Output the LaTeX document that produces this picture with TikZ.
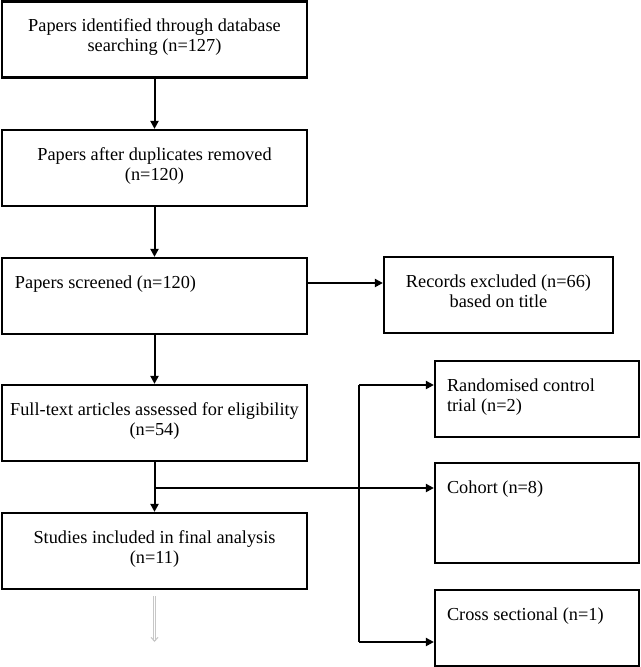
\documentclass[tikz,border=0pt]{standalone}
\usepackage{fontspec}
\setmainfont{Liberation Serif}
\usetikzlibrary{arrows.meta}

\tikzset{
    box/.style={draw, line width=2.2bp, inner sep=0pt, font=\fontsize{18.3bp}{20bp}\selectfont},
    leftbox/.style={box, minimum width=305bp, minimum height=76bp},
    rightbox/.style={box, minimum width=204bp},
    link/.style={line width=2bp},
    fade/.style={draw=black!22, line width=1bp, double distance=1.6bp},
}
\newcommand{\boxtext}[3]{\parbox[c][#1][t]{#2}{\vspace*{16.5bp}#3}}

\begin{document}
\begin{tikzpicture}[x=1bp, y=-1bp, >={Triangle[length=8bp, width=8bp]}]
        \useasboundingbox (0,0) rectangle (641,667);
        \node [leftbox] (0) at (154.5,39.5) {\boxtext{76bp}{297bp}{\centering\strut Papers identified through database\\ searching (n=127)}};
        \node [leftbox] (1) at (154.5,168) {\boxtext{76bp}{297bp}{\centering\strut Papers after duplicates removed\\ (n=120)}};
        \node [leftbox] (2) at (154.5,296) {\boxtext{76bp}{279bp}{\raggedright\strut Papers screened (n=120)}};
        \node [leftbox] (3) at (154.5,423) {\boxtext{76bp}{297bp}{\centering\strut Full-text articles assessed for eligibility\\ (n=54)}};
        \node [leftbox] (4) at (154.5,551) {\boxtext{76bp}{297bp}{\centering\strut Studies included in final analysis\\ (n=11)}};
        \node [box, minimum width=229bp, minimum height=76bp] (5) at (498.5,295) {\boxtext{76bp}{215bp}{\centering\strut Records excluded (n=66)\\ based on title}};
        \node [rightbox, minimum height=76bp] (6) at (537,399) {\boxtext{76bp}{180bp}{\raggedright\strut Randomised control\\ trial (n=2)}};
        \node [rightbox, minimum height=100bp] (7) at (537,513) {\boxtext{100bp}{180bp}{\raggedright\strut Cohort (n=8)}};
        \node [rightbox, minimum height=76bp] (8) at (537,628) {\boxtext{76bp}{180bp}{\raggedright\strut Cross sectional (n=1)}};
        \coordinate (9) at (154.5,283);
        \coordinate (10) at (154.5,488);
        \coordinate (11) at (359,385);
        \coordinate (12) at (359,642);
        \coordinate (13) at (154.5,642);
        \draw [->, link] (0.south) -- (1.north);
        \draw [->, link] (1.south) -- (2.north);
        \draw [->, link] (2.south) -- (3.north);
        \draw [->, link] (3.south) -- (4.north);
        \draw [->, link] (2.east |- 9) -- (5.west |- 9);
        \draw [->, link] (10) -- (7.west |- 10);
        \draw [link] (11) -- (12);
        \draw [->, link] (11) -- (6.west |- 11);
        \draw [->, link] (12) -- (8.west |- 12);
        \draw [fade, -{Straight Barb[length=4bp, width=7bp]}] ([yshift=-6bp]4.south) -- (13);
    \end{tikzpicture}
\end{document}
